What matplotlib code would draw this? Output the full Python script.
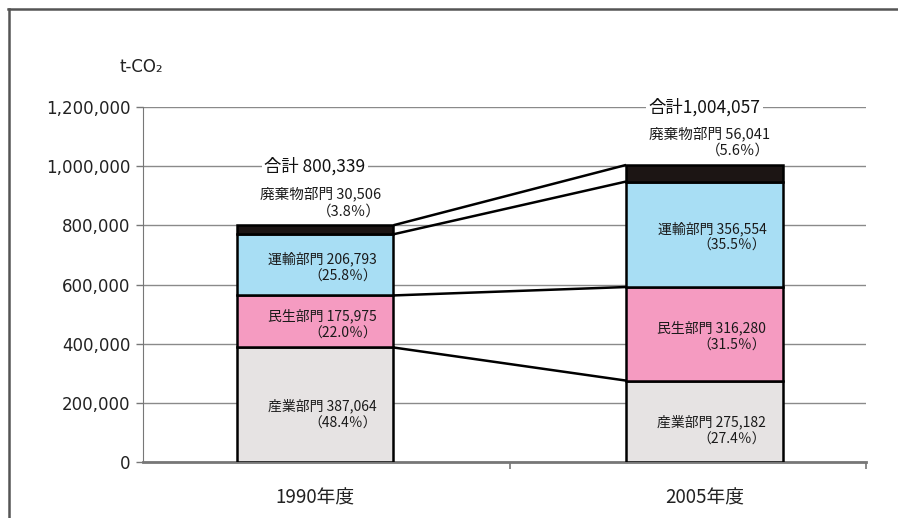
import math
import matplotlib
matplotlib.use("Agg")
import matplotlib.pyplot as plt
from matplotlib.lines import Line2D

plt.rcParams['font.family'] = ['Noto Sans CJK JP', 'DejaVu Sans']

years = ['1990年度', '2005年度']
sectors = ['産業部門', '民生部門', '運輸部門', '廃棄物部門']
values_1990 = [387064, 175975, 206793, 30506]
values_2005 = [275182, 316280, 356554, 56041]
pct_1990 = ['48.4', '22.0', '25.8', '3.8']
pct_2005 = ['27.4', '31.5', '35.5', '5.6']
totals = ['800,339', '1,004,057']
colors = ['#e6e3e3', '#f59bc1', '#a8def4', '#1c1514']
yticks = [0, 200000, 400000, 600000, 800000, 1000000, 1200000]

data = [values_1990, values_2005]
pcts = [pct_1990, pct_2005]

fig = plt.figure(figsize=(8.98, 5.18), dpi=100)
ax = fig.add_axes([143 / 898, 56 / 518, 723 / 898, 355 / 518])

w = 0.403
xs = [0, 1]
for i, vals in enumerate(data):
    bottom = 0
    for j, v in enumerate(vals):
        ax.bar(xs[i], v, w, bottom=bottom, color=colors[j],
               edgecolor='black', linewidth=1.8, zorder=3)
        bottom += v

# connecting lines between the bars
cum_a = 0
cum_b = 0
for j in range(len(sectors)):
    cum_a += values_1990[j]
    cum_b += values_2005[j]
    ax.plot([xs[0] + w / 2, xs[1] - w / 2], [cum_a, cum_b],
            color='black', lw=1.8, zorder=4, solid_capstyle='butt')

# labels inside the bars
offsets = [-7, -2, -2]
for i, vals in enumerate(data):
    bottom = 0
    right = xs[i] + w / 2
    for j, v in enumerate(vals):
        if j < 3:
            ax.annotate('%s %s\n（%s％）' % (sectors[j], format(v, ','), pcts[i][j]),
                        (right, bottom + v / 2), xytext=(-12, offsets[j]),
                        textcoords='offset points', ha='right', va='center',
                        multialignment='right', fontsize=10, color='#1a1a1a',
                        linespacing=1.3, zorder=5)
        bottom += v
    # waste label above the bar
    ax.annotate('%s %s\n（%s％）' % (sectors[3], format(vals[3], ','), pcts[i][3]),
                (right, bottom), xytext=(-9, 5), textcoords='offset points',
                ha='right', va='bottom', multialignment='right', fontsize=10.5,
                color='#1a1a1a', linespacing=1.25, zorder=5)
    # total label on next gridline
    gy = math.ceil(bottom / 200000) * 200000
    ax.text(xs[i], gy, '合計 ' + totals[i] if i == 0 else '合計' + totals[i],
            ha='center', va='center', fontsize=12.5, color='#111111', zorder=5,
            bbox=dict(boxstyle='square,pad=0.15', fc='white', ec='none'))

ax.set_xlim(-0.4416, 1.4146)
ax.set_ylim(0, 1200000)
ax.set_yticks(yticks)
ax.set_yticklabels([format(t, ',') for t in yticks], family='DejaVu Sans',
                   fontsize=12, color='#222222')
ax.tick_params(axis='y', length=5, width=1, color='#777777', pad=4)
ax.set_xticks(xs)
ax.set_xticklabels(years, fontsize=13.5, color='#222222')
ax.tick_params(axis='x', length=0, pad=18)
ax.set_xticks([0.5, 1.4146], minor=True)
ax.tick_params(axis='x', which='minor', length=5, width=1.2, color='#777777')

ax.grid(axis='y', color='#8a8a8a', lw=1, zorder=0)
ax.set_axisbelow(True)
for s in ['top', 'right']:
    ax.spines[s].set_visible(False)
ax.spines['left'].set_color('#777777')
ax.spines['bottom'].set_color('#777777')
ax.spines['bottom'].set_linewidth(2)

fig.text(141 / 898, 1 - 67 / 518, 't-CO₂', family='DejaVu Sans', fontsize=12,
         ha='center', va='center', color='#222222')

# outer frame
fig.add_artist(Line2D([8 / 898, 1], [1 - 8.5 / 518, 1 - 8.5 / 518],
                      color='#555555', lw=1.8))
fig.add_artist(Line2D([8.5 / 898, 8.5 / 898], [0, 1 - 8.5 / 518],
                      color='#555555', lw=1.8))

fig.savefig('out.png', dpi=100)
